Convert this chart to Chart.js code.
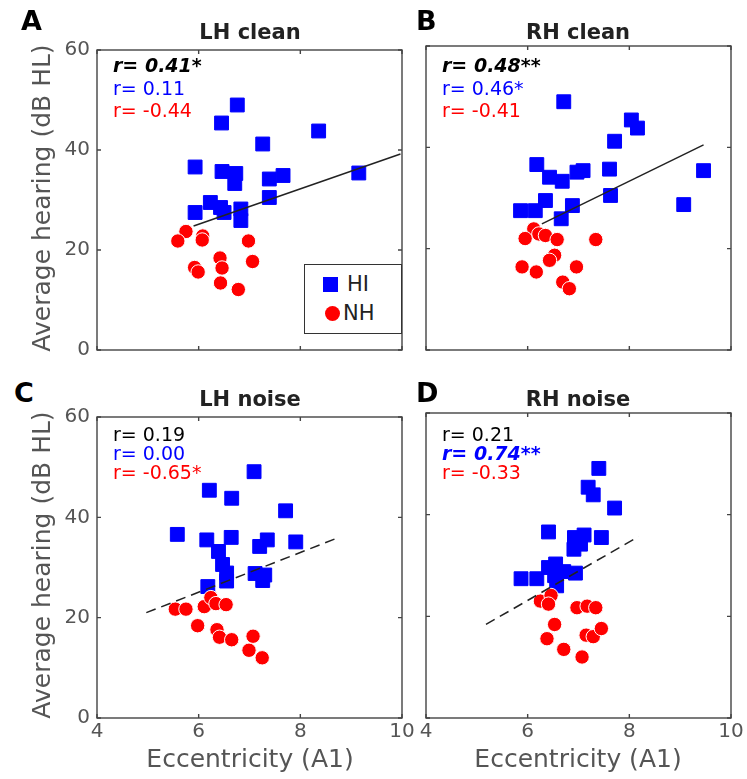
<!DOCTYPE html>
<html>
<head>
<meta charset="utf-8">
<script src="https://cdn.jsdelivr.net/npm/chart.js@4.4.0/dist/chart.umd.min.js"></script>
<style>
html,body{margin:0;padding:0;background:#fff;}
#fig{position:relative;width:747px;height:779px;overflow:hidden;font-family:"DejaVu Sans",sans-serif;}
#fig canvas{position:absolute;}
.t{position:absolute;white-space:nowrap;line-height:1;}
.letter{font-weight:bold;font-size:27px;color:#000;}
.ttl{font-weight:bold;font-size:21px;color:#222;transform:translateX(-50%);}
.ylab{font-size:25px;color:#555;transform:translate(-50%,-50%) rotate(-90deg);line-height:normal;}
.xlab{font-size:25px;color:#555;transform:translate(-50%,-50%);line-height:normal;}
.rt{font-size:19px;}
.sig{font-weight:bold;font-style:italic;}
.legend{position:absolute;box-sizing:border-box;border:1.5px solid #333;background:#fff;}
.lg-sq{position:absolute;width:15px;height:15px;background:#0000ff;}
.lg-ci{position:absolute;width:15px;height:15px;border-radius:50%;background:#ff0000;}
.lg-tx{position:absolute;font-size:21px;color:#222;line-height:1;}
</style>
</head>
<body>
<div id="fig">
  <canvas id="cA"></canvas><canvas id="cB"></canvas><canvas id="cC"></canvas><canvas id="cD"></canvas>

  <div class="t letter" style="left:21px;top:7px">A</div>
  <div class="t letter" style="left:416px;top:7px">B</div>
  <div class="t letter" style="left:14px;top:379px">C</div>
  <div class="t letter" style="left:416px;top:379px">D</div>

  <div class="t ttl" style="left:250px;top:22px">LH clean</div>
  <div class="t ttl" style="left:578px;top:22px">RH clean</div>
  <div class="t ttl" style="left:250px;top:389px">LH noise</div>
  <div class="t ttl" style="left:578px;top:389px">RH noise</div>

  <div class="t ylab" style="left:41px;top:198px">Average hearing (dB HL)</div>
  <div class="t ylab" style="left:41px;top:565px">Average hearing (dB HL)</div>
  <div class="t xlab" style="left:250px;top:758px">Eccentricity (A1)</div>
  <div class="t xlab" style="left:578px;top:758px">Eccentricity (A1)</div>

  <div id="rA"></div><div id="rB"></div><div id="rC"></div><div id="rD"></div>

  <div class="legend" style="left:304px;top:264px;width:98px;height:70px">
    <div class="lg-sq" style="left:18px;top:12px"></div>
    <div class="lg-tx" style="left:42px;top:9px">HI</div>
    <div class="lg-ci" style="left:20px;top:41px"></div>
    <div class="lg-tx" style="left:38px;top:38px">NH</div>
  </div>
</div>

<script>
// axis ticks
const xTicks=[4,6,8,10];
const yTicks=[0,20,40,60];

// LH clean
const lhCleanHI=[[6.76,49.0],[6.45,45.4],[7.26,41.2],[8.36,43.8],[5.93,36.6],[6.46,35.7],[6.73,35.3],[6.71,33.3],[7.39,34.2],[7.66,34.9],[9.15,35.4],[7.39,30.5],[6.23,29.5],[6.43,28.5],[5.93,27.5],[6.50,27.5],[6.83,28.2],[6.83,25.9]];
const lhCleanNH=[[5.75,23.7],[6.08,22.8],[5.59,21.8],[6.07,22.0],[6.98,21.8],[6.42,18.4],[6.46,16.4],[5.92,16.5],[5.99,15.6],[7.06,17.7],[6.43,13.4],[6.78,12.1]];
const lhCleanFit=[[5.90,24.8],[9.97,39.2]];
const lhCleanR=['r= 0.41*','r= 0.11','r= -0.44'];

// RH clean
const rhCleanHI=[[6.71,49.0],[8.04,45.4],[8.16,43.8],[7.71,41.2],[6.18,36.6],[6.43,34.1],[6.68,33.3],[6.97,35.1],[7.09,35.4],[7.61,35.7],[9.46,35.4],[7.63,30.5],[6.35,29.5],[6.88,28.5],[5.86,27.5],[6.15,27.5],[6.66,25.9],[9.07,28.7]];
const rhCleanNH=[[6.12,23.9],[6.22,22.9],[6.35,22.6],[5.95,22.0],[6.58,21.8],[7.34,21.8],[6.53,18.7],[6.43,17.7],[5.89,16.4],[6.17,15.4],[6.96,16.4],[6.69,13.4],[6.82,12.1]];
const rhCleanFit=[[6.28,24.9],[9.46,40.5]];
const rhCleanR=['r= 0.48**','r= 0.46*','r= -0.41'];

// LH noise
const lhNoiseHI=[[7.09,49.1],[6.21,45.4],[6.65,43.8],[7.71,41.3],[5.58,36.6],[6.16,35.5],[6.64,36.0],[7.35,35.5],[7.20,34.2],[7.91,35.1],[6.39,33.2],[6.47,30.6],[6.55,28.9],[7.11,28.8],[7.30,28.5],[6.55,27.3],[7.26,27.4],[6.18,26.2]];
const lhNoiseNH=[[5.54,21.7],[5.75,21.7],[6.11,22.2],[6.24,24.0],[6.34,22.8],[6.54,22.6],[5.98,18.4],[6.36,17.6],[6.41,16.1],[6.65,15.6],[7.07,16.3],[6.99,13.5],[7.25,12.0]];
const lhNoiseFit=[[4.97,21.0],[8.76,36.0]];
const lhNoiseR=['r= 0.19','r= 0.00','r= -0.65*'];

// RH noise
const rhNoiseHI=[[7.40,49.1],[7.19,45.4],[7.29,43.9],[7.71,41.3],[6.41,36.6],[6.92,35.5],[7.11,36.0],[7.45,35.5],[7.04,34.2],[6.91,33.2],[6.55,30.3],[6.41,29.6],[6.71,28.8],[6.94,28.5],[5.87,27.4],[6.18,27.4],[6.53,28.0],[6.57,26.0]];
const rhNoiseNH=[[6.25,23.0],[6.46,24.1],[6.41,22.4],[6.97,21.7],[7.17,22.0],[7.34,21.7],[6.53,18.4],[6.38,15.6],[6.71,13.5],[7.15,16.3],[7.29,16.0],[7.45,17.6],[7.07,12.0]];
const rhNoiseFit=[[5.18,18.4],[8.18,35.7]];
const rhNoiseR=['r= 0.21','r= 0.74**','r= -0.33'];

const BLUE='#0000ff', RED='#ff0000';
const M={l:60,t:15,r:15,b:45};
const pts=a=>a.map(p=>({x:p[0],y:p[1]}));

// MATLAB-style box with inward ticks
const boxPlugin={
  id:'box',
  afterDraw(c){
    const {ctx,chartArea:a,scales:{x,y}}=c;
    ctx.save();
    ctx.strokeStyle='#444';ctx.lineWidth=1.4;
    ctx.strokeRect(a.left,a.top,a.right-a.left,a.bottom-a.top);
    ctx.beginPath();
    xTicks.forEach(v=>{const p=x.getPixelForValue(v);ctx.moveTo(p,a.bottom);ctx.lineTo(p,a.bottom-4);ctx.moveTo(p,a.top);ctx.lineTo(p,a.top+4);});
    yTicks.forEach(v=>{const p=y.getPixelForValue(v);ctx.moveTo(a.left,p);ctx.lineTo(a.left+4,p);ctx.moveTo(a.right,p);ctx.lineTo(a.right-4,p);});
    ctx.stroke();
    ctx.restore();
  }
};

function rText(id,box,labels,sig,tops){
  const cols=['#000',BLUE,RED];
  document.getElementById(id).innerHTML=labels.map((s,i)=>
    `<div class="t rt${sig===i?' sig':''}" style="left:${box.x+16}px;top:${tops[i]}px;color:${cols[i]}">${s}</div>`).join('');
}

function panel(id,box,hi,nh,fit,dashed,showX,showY){
  const cv=document.getElementById(id);
  cv.width=box.w+M.l+M.r; cv.height=box.h+M.t+M.b;
  cv.style.left=(box.x-M.l)+'px'; cv.style.top=(box.y-M.t)+'px';
  const tickFont={family:'DejaVu Sans',size:20};
  new Chart(cv,{
    type:'scatter',
    data:{datasets:[
      {type:'line',data:pts(fit),borderColor:'#222',borderWidth:1.5,borderDash:dashed?[10,6]:[],pointRadius:0,fill:false},
      {data:pts(nh),pointStyle:'circle',pointRadius:7.2,backgroundColor:RED,borderColor:'#fff',borderWidth:1},
      {data:pts(hi),pointStyle:'rect',pointRadius:9.8,backgroundColor:BLUE,borderColor:BLUE,borderWidth:1}
    ]},
    options:{
      responsive:false,animation:false,events:[],devicePixelRatio:1,
      layout:{padding:{left:0,top:M.t,right:M.r,bottom:0}},
      plugins:{legend:{display:false},tooltip:{enabled:false}},
      scales:{
        x:{type:'linear',min:4,max:10,
          afterBuildTicks:s=>{s.ticks=xTicks.map(v=>({value:v}));},
          afterFit:s=>{s.height=M.b;},
          grid:{display:false,drawTicks:false},border:{display:false},
          ticks:{display:showX,color:'#555',font:tickFont,padding:2,maxRotation:0,autoSkip:false}},
        y:{type:'linear',min:0,max:60,
          afterBuildTicks:s=>{s.ticks=yTicks.map(v=>({value:v}));},
          afterFit:s=>{s.width=M.l;},
          grid:{display:false,drawTicks:false},border:{display:false},
          ticks:{display:showY,color:'#555',font:tickFont,padding:7}}
      }
    },
    plugins:[boxPlugin]
  });
}

const bA={x:97,y:46,w:305,h:304}, bB={x:426,y:46,w:305,h:304};
const bC={x:97,y:413,w:305,h:305}, bD={x:426,y:413,w:305,h:305};

panel('cA',bA,lhCleanHI,lhCleanNH,lhCleanFit,false,false,true);
panel('cB',bB,rhCleanHI,rhCleanNH,rhCleanFit,false,false,false);
panel('cC',bC,lhNoiseHI,lhNoiseNH,lhNoiseFit,true,true,true);
panel('cD',bD,rhNoiseHI,rhNoiseNH,rhNoiseFit,true,true,false);

rText('rA',bA,lhCleanR,0,[56,79,101]);
rText('rB',bB,rhCleanR,0,[56,79,101]);
rText('rC',bC,lhNoiseR,-1,[425,444,463]);
rText('rD',bD,rhNoiseR,1,[425,444,463]);
</script>
</body>
</html>
